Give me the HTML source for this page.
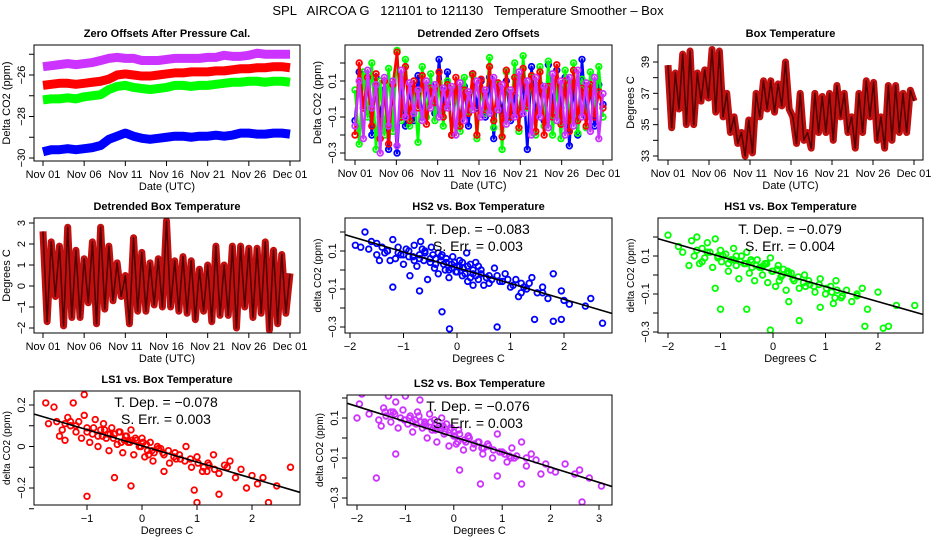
<!DOCTYPE html>
<html><head><meta charset="utf-8"><style>
body{margin:0;background:#fff;}
svg{display:block;font-family:"Liberation Sans",sans-serif;}
</style></head><body>
<svg id="c" width="936" height="540" viewBox="0 0 936 540">
<text x="468" y="15" text-anchor="middle" font-size="13" style="white-space:pre" xml:space="preserve">SPL   AIRCOA G   121101 to 121130   Temperature Smoother – Box</text>
</svg>
<script>
// ---- data ----
const dateTicks = [0,5,10,15,20,25,30];
const dateLabels = ["Nov 01","Nov 06","Nov 11","Nov 16","Nov 21","Nov 26","Dec 01"];
const zPurple = [-25.6,-25.55,-25.5,-25.45,-25.5,-25.45,-25.4,-25.3,-25.2,-25.15,-25.2,-25.2,-25.3,-25.3,-25.3,-25.25,-25.2,-25.2,-25.2,-25.2,-25.15,-25.15,-25.05,-25.1,-25.1,-25.05,-24.95,-25.0,-25.0,-25.0,-25.0];
const zRed = [-26.5,-26.45,-26.4,-26.4,-26.45,-26.4,-26.35,-26.3,-26.2,-26.0,-25.95,-26.0,-26.05,-26.05,-26.0,-25.95,-25.9,-25.9,-25.85,-25.85,-25.85,-25.8,-25.8,-25.75,-25.7,-25.7,-25.65,-25.65,-25.6,-25.6,-25.65];
const zGreen = [-27.2,-27.15,-27.15,-27.1,-27.15,-27.05,-27.0,-26.95,-26.7,-26.55,-26.5,-26.6,-26.65,-26.7,-26.65,-26.6,-26.5,-26.5,-26.55,-26.5,-26.5,-26.45,-26.4,-26.35,-26.35,-26.3,-26.3,-26.35,-26.3,-26.3,-26.35];
const zBlue = [-29.7,-29.6,-29.6,-29.55,-29.6,-29.55,-29.5,-29.4,-29.1,-28.95,-28.8,-28.95,-29.05,-29.1,-29.05,-29.0,-28.95,-28.95,-29.0,-28.95,-28.95,-28.9,-28.95,-28.9,-28.8,-28.8,-28.85,-28.85,-28.8,-28.8,-28.85];
const dBlue = [-0.12,0.15,-0.05,0.1,-0.2,0.12,-0.1,0.05,-0.28,0.08,-0.3,0.1,-0.15,0.06,-0.12,0.13,-0.1,0.05,0.08,-0.08,0.22,-0.05,0.15,-0.2,0.04,-0.12,0.07,-0.15,0.14,-0.05,0.1,-0.1,0.12,-0.22,0.06,-0.08,0.1,-0.12,0.02,-0.09,0.11,-0.28,0.18,-0.1,0.08,-0.12,0.19,-0.04,0.16,-0.05,0.12,-0.26,0.09,-0.2,0.22,-0.1,0.06,-0.15,0.08,-0.03];
const dGreen = [0.05,-0.25,0.15,-0.1,0.2,-0.28,0.1,-0.2,0.17,-0.18,0.27,-0.12,0.22,-0.15,0.05,-0.24,0.18,-0.1,0.14,-0.12,0.09,-0.15,0.1,-0.2,0.06,-0.18,0.12,-0.07,0.13,-0.22,0.05,-0.08,0.23,-0.16,0.08,-0.28,0.15,-0.1,0.2,-0.18,0.24,-0.05,0.12,-0.2,0.18,-0.15,0.21,-0.2,0.08,-0.22,0.16,-0.12,0.2,-0.19,0.11,-0.16,0.15,-0.08,0.18,-0.1];
const dRed = [-0.2,0.2,-0.05,0.12,-0.15,0.14,-0.22,0.1,-0.25,0.08,0.26,-0.1,0.18,-0.12,0.1,-0.05,0.13,-0.14,0.06,-0.02,0.15,-0.1,0.08,-0.2,0.12,-0.15,0.05,-0.08,0.14,-0.2,0.11,-0.06,0.18,-0.12,0.09,-0.21,0.16,-0.1,0.12,-0.16,0.17,-0.04,0.13,-0.18,0.15,-0.2,0.07,-0.1,0.19,-0.14,0.1,-0.18,0.16,-0.12,0.06,-0.15,0.08,-0.1,0.04,-0.05];
const dPurple = [-0.15,0.1,-0.22,0.16,-0.05,0.08,-0.3,0.12,-0.15,0.1,-0.26,0.16,-0.1,0.09,-0.08,0.05,-0.12,0.1,-0.05,0.08,-0.1,0.06,-0.05,0.07,-0.2,0.09,-0.12,0.04,-0.06,0.1,-0.1,0.05,-0.08,0.12,-0.06,0.08,-0.14,0.05,-0.1,0.15,-0.08,0.1,-0.2,0.12,-0.1,0.07,-0.16,0.14,-0.12,0.1,-0.2,0.12,-0.15,0.16,-0.1,0.09,-0.18,0.12,-0.22,0.03];
const boxTemp = [38.8,34.8,38.3,36.0,39.5,35.0,39.7,35.0,38.3,36.5,38.5,36.7,39.8,35.8,39.7,35.5,37.0,34.5,35.5,33.8,34.5,33.0,35.3,33.2,37.0,35.5,37.8,36.0,37.8,35.8,37.6,36.2,39.0,36.0,35.5,33.8,37.0,34.0,34.5,33.5,37.0,34.5,36.8,34.5,37.0,34.0,37.5,35.5,37.0,34.5,35.5,33.5,37.0,34.5,37.8,35.5,37.7,34.0,35.5,33.5,37.5,34.0,37.5,34.5,37.0,34.5,37.2,36.5];
const detBox = [2.6,-1.7,2.1,-0.5,1.9,-1.9,2.8,-1.5,1.7,-1.5,1.3,-0.8,2.1,-1.8,2.8,-1.1,1.9,-0.7,1.1,-0.5,0.5,-1.8,2.3,-1.2,1.6,-1.2,1.1,-0.9,1.3,-1.0,3.1,-1.0,1.2,-1.2,1.4,-1.3,1.2,-1.6,0.8,-1.2,1.0,-1.7,1.9,-1.4,1.0,-1.4,1.9,-2.0,1.9,-1.0,1.8,-1.5,1.8,-1.3,2.1,-2.1,1.7,-1.8,1.5,-1.3,0.6];
const hs2X = [-1.9,-1.8,-1.72,-1.65,-1.6,-1.5,-1.45,-1.4,-1.35,-1.3,-1.25,-1.2,-1.15,-1.1,-1.05,-1.0,-0.95,-0.9,-0.88,-0.82,-0.8,-0.75,-0.7,-0.68,-0.62,-0.6,-0.55,-0.5,-0.48,-0.42,-0.4,-0.35,-0.3,-0.28,-0.22,-0.2,-0.15,-0.1,-0.08,-0.02,0.0,0.05,0.1,0.12,0.18,0.2,0.25,0.3,0.35,0.4,0.45,0.5,0.6,0.7,0.8,0.9,1.0,1.1,1.15,1.2,1.3,1.4,1.5,1.6,1.7,1.8,1.95,2.0,2.1,2.4,2.5,2.72,-1.2,-0.28,-0.14,0.75,1.8,1.95,-0.7,0.3,1.45,
 -1.5,-1.3,-1.1,-0.9,-0.7,-0.6,-0.5,-0.45,-0.4,-0.3,-0.25,-0.2,-0.1,-0.05,0,0.05,0.1,0.15,0.2,0.3,0.35,0.45,0.55,0.65,0.75,0.85,0.95,1.05,1.25,1.35,-0.8,-0.65,-0.35,-0.15,0.25,0.4,0.6,1.2,1.6,-1.0];
const hs2Y = [0.13,0.12,0.2,0.11,0.15,0.08,0.05,0.12,0.09,0.1,0.05,0.16,0.06,0.12,0.08,0.03,0.11,0.1,-0.03,0.07,0.13,0.02,0.06,0.15,0.05,0.09,-0.05,0.04,0.12,0.01,0.06,-0.02,0.05,0.08,0.0,0.04,-0.04,0.03,0.07,-0.01,0.02,0.05,-0.03,0.01,0.09,-0.06,0.03,-0.02,0.04,-0.05,0.0,-0.08,-0.03,0.01,-0.06,-0.02,-0.09,-0.05,-0.14,-0.07,-0.1,-0.04,-0.12,-0.09,-0.15,-0.02,-0.11,-0.16,-0.18,-0.19,-0.15,-0.28,-0.09,-0.22,-0.31,-0.3,-0.27,-0.26,-0.11,-0.08,-0.26,
 0.14,0.1,0.09,0.07,0.08,0.1,0.06,0.08,0.03,0.07,0.03,0.06,0.01,0.04,-0.01,0.02,0.04,-0.02,0.02,0.0,-0.03,-0.02,-0.04,-0.05,-0.03,-0.06,-0.05,-0.08,-0.09,-0.07,0.05,0.11,0.09,0.0,-0.04,0.02,-0.07,-0.12,-0.12,0.08];
const hs1X = [-2.0,-1.8,-1.72,-1.6,-1.55,-1.5,-1.45,-1.4,-1.35,-1.3,-1.25,-1.2,-1.15,-1.1,-1.05,-1.0,-0.98,-0.9,-0.85,-0.8,-0.75,-0.7,-0.65,-0.6,-0.55,-0.5,-0.45,-0.4,-0.35,-0.3,-0.25,-0.2,-0.15,-0.1,-0.05,0.0,0.05,0.1,0.15,0.2,0.25,0.3,0.4,0.5,0.6,0.7,0.8,0.9,1.0,1.1,1.15,1.2,1.3,1.4,1.5,1.6,1.7,1.8,2.0,2.1,2.2,2.35,2.7,-1.1,-1.0,-0.5,-0.05,0.5,1.75,0.3,0.9,
 -1.45,-1.25,-1.05,-0.95,-0.75,-0.62,-0.52,-0.42,-0.32,-0.22,-0.12,-0.02,0.08,0.18,0.28,0.38,0.48,0.58,0.68,0.78,0.88,1.02,1.12,1.22,1.32,-0.85,-0.7,-0.4,-0.18,0.12,0.35,0.62,1.18,1.6,-1.35];
const hs1Y = [0.21,0.15,0.12,0.05,0.18,0.1,0.2,0.06,0.14,0.09,0.17,0.12,0.04,0.19,0.1,0.13,0.07,0.11,0.02,0.08,0.14,0.05,-0.02,0.1,0.06,0.12,0.01,0.07,-0.03,0.08,0.04,0.0,0.06,-0.04,0.09,0.02,-0.06,0.05,-0.01,0.03,-0.08,0.01,-0.03,-0.07,0.0,-0.05,-0.09,-0.02,-0.1,-0.06,-0.15,-0.03,-0.12,-0.08,-0.14,-0.1,-0.07,-0.18,-0.09,-0.28,-0.27,-0.16,-0.16,-0.07,-0.18,-0.18,-0.29,-0.24,-0.27,-0.14,-0.17,
 0.13,0.12,0.09,0.1,0.08,0.07,0.06,0.08,0.05,0.04,0.06,0.02,0.03,0.0,0.02,-0.02,-0.01,-0.04,-0.03,-0.06,-0.05,-0.07,-0.09,-0.08,-0.11,0.06,0.1,0.04,0.05,-0.03,0.01,-0.06,-0.12,-0.11,0.07];
const ls1X = [-1.75,-1.7,-1.6,-1.55,-1.5,-1.45,-1.4,-1.35,-1.3,-1.25,-1.2,-1.15,-1.1,-1.05,-1.0,-0.95,-0.9,-0.85,-0.8,-0.75,-0.7,-0.65,-0.6,-0.55,-0.5,-0.45,-0.4,-0.35,-0.3,-0.25,-0.2,-0.15,-0.1,-0.05,0.0,0.05,0.1,0.15,0.2,0.3,0.4,0.5,0.6,0.7,0.8,0.9,1.0,1.1,1.2,1.3,1.4,1.5,1.6,1.7,1.8,1.9,2.0,2.1,2.2,2.3,2.45,2.7,-1.0,-1.05,-0.5,0.95,1.0,1.4,-0.2,0.4,
 -1.4,-1.2,-1.0,-0.88,-0.72,-0.62,-0.52,-0.42,-0.32,-0.22,-0.12,-0.02,0.08,0.18,0.28,0.38,0.48,0.58,0.68,0.78,0.88,1.02,1.12,1.22,1.32,-0.8,-0.68,-0.38,-0.18,0.12,0.34,0.62,1.18,1.55,-1.3,-0.58,-0.28,0.02,0.22];
const ls1Y = [0.21,0.11,0.19,0.12,0.05,0.08,0.03,0.14,0.1,0.21,0.07,0.12,0.04,0.15,0.09,0.02,0.06,0.13,0.0,0.08,0.11,0.04,-0.02,0.09,0.06,0.01,0.07,-0.03,0.05,0.02,0.08,-0.04,0.03,0.0,0.04,-0.05,-0.02,0.02,-0.07,-0.01,-0.04,-0.08,-0.03,-0.06,0.0,-0.1,-0.05,-0.12,-0.08,-0.04,-0.13,-0.09,-0.07,-0.15,-0.11,-0.2,-0.14,-0.18,-0.15,-0.27,-0.19,-0.1,-0.24,0.25,-0.15,-0.21,-0.27,-0.23,-0.19,-0.12,
 0.11,0.1,0.07,0.09,0.05,0.06,0.04,0.07,0.03,0.02,0.04,0.0,0.01,-0.02,0.0,-0.03,-0.02,-0.05,-0.04,-0.07,-0.06,-0.08,-0.1,-0.09,-0.11,0.05,0.08,0.02,0.03,-0.04,-0.01,-0.06,-0.12,-0.1,0.12,0.06,0.05,0.02,-0.03];
const ls2X = [-2.0,-1.95,-1.9,-1.75,-1.55,-1.5,-1.45,-1.4,-1.35,-1.3,-1.25,-1.2,-1.15,-1.1,-1.05,-1.0,-0.95,-0.9,-0.85,-0.8,-0.75,-0.7,-0.65,-0.6,-0.55,-0.5,-0.45,-0.4,-0.35,-0.3,-0.25,-0.2,-0.15,-0.1,-0.05,0.0,0.05,0.1,0.2,0.3,0.4,0.5,0.6,0.7,0.8,0.9,1.0,1.1,1.2,1.3,1.4,1.5,1.6,1.7,1.8,1.9,2.0,2.1,2.3,2.5,2.6,2.8,3.05,-1.6,-1.2,0.12,0.55,0.9,2.65,1.4,
 -1.42,-1.22,-1.02,-0.92,-0.78,-0.68,-0.58,-0.48,-0.38,-0.28,-0.18,-0.08,0.02,0.12,0.22,0.32,0.42,0.52,0.62,0.72,0.82,0.95,1.05,1.15,1.25,-0.85,-0.72,-0.42,-0.22,0.08,0.3,0.58,1.18,1.5,-1.3,-0.6,-0.3,0.0,0.25];
const ls2Y = [0.1,0.17,0.22,0.12,0.09,0.06,0.15,0.11,0.21,0.08,0.13,0.18,0.05,0.1,0.14,0.21,0.07,0.11,0.03,0.09,0.13,0.19,0.05,0.08,0.0,0.12,0.04,0.09,-0.02,0.06,0.1,0.02,0.07,-0.04,0.05,0.01,-0.03,0.04,-0.06,0.01,-0.05,-0.02,-0.08,-0.03,-0.1,0.02,-0.07,-0.12,-0.05,-0.09,-0.02,-0.14,-0.08,-0.11,-0.18,-0.13,-0.16,-0.17,-0.13,-0.18,-0.16,-0.2,-0.24,-0.2,-0.08,-0.16,-0.23,-0.19,-0.32,-0.23,
 0.13,0.12,0.09,0.1,0.07,0.08,0.06,0.08,0.04,0.05,0.03,0.04,0.01,0.02,-0.01,0.0,-0.03,-0.02,-0.05,-0.04,-0.06,-0.07,-0.08,-0.09,-0.1,0.08,0.11,0.05,0.06,-0.02,0.01,-0.05,-0.1,-0.1,0.13,0.07,0.06,0.03,-0.02];
const fitSlope = [-0.083,-0.079,-0.078,-0.076];
const fitIntercept = [0.012,0.018,0.003,0.006];
const fitErr = ["0.003","0.004","0.003","0.003"];

// ---- drawing ----
const svg=document.getElementById('c');
const NS='http://www.w3.org/2000/svg';
function el(tag,attrs,parent){const e=document.createElementNS(NS,tag);for(const k in attrs)e.setAttribute(k,attrs[k]);(parent||svg).appendChild(e);return e;}
function lin(v1,p1,v2,p2){return v=>p1+(v-v1)*(p2-p1)/(v2-v1);}

function panel(o){
  const g=el('g',{});
  
  
  const b=o.box;
  const t=el('text',{x:(b.l+b.r)/2,y:b.t-8,'text-anchor':'middle','font-size':'11','font-weight':'bold'},g);
  t.textContent=o.title;
  
  
  const clip='clip'+o.name;
  const cp=el('clipPath',{id:clip},g);el('rect',{x:b.l,y:b.t,width:b.r-b.l,height:b.b-b.t},cp);
  const plot=el('g',{'clip-path':'url(#'+clip+')'},g);
  
  
  const fr=el('rect',{x:b.l,y:b.t,width:b.r-b.l,height:b.b-b.t,fill:'none',stroke:'#000','stroke-width':1},g);
  
  
  const xa=el('g',{},g);
  
  
  o.xt.forEach((v,i)=>{const x=o.sx(v);el('line',{x1:x,x2:x,y1:b.b,y2:b.b+5,stroke:'#000'},xa);
    const tx=el('text',{x:x,y:b.b+17,'text-anchor':'middle','font-size':'11'},xa);tx.textContent=o.xl[i];
    
    });
  const xt=el('text',{x:(b.l+b.r)/2,y:b.b+29,'text-anchor':'middle','font-size':'11'},g);xt.textContent=o.xtitle;
  
  
  const ya=el('g',{},g);
  
  
  o.yt.forEach(v=>{const y=o.sy(v);el('line',{x1:b.l-5,x2:b.l,y1:y,y2:y,stroke:'#000'},ya);});
  o.yl.forEach(v=>{const y=o.sy(v);const tx=el('text',{x:b.l-9,y:y,'text-anchor':'middle','font-size':'11',transform:`rotate(-90 ${b.l-9} ${y})`},ya);tx.textContent=String(v).replace('-','\u2212');
    
    });
  const yc=(b.t+b.b)/2;
  const yt=el('text',{x:b.l-24,y:yc,'text-anchor':'middle','font-size':o.ytSize||'11',transform:`rotate(-90 ${b.l-24} ${yc})`},g);yt.textContent=o.ytitle;
  
  
  return plot;
}
function circles(p,xs,ys,sx,sy,col,name){
  const n=Math.min(xs.length,ys.length);
  for(let i=0;i<n;i++){const c=el('circle',{cx:sx(xs[i]),cy:sy(ys[i]),r:2.8,fill:'none',stroke:col,'stroke-width':1.8},p);
    
    }
}
function line(p,vals,sx,sy,col,w,name){
  const pts=vals.map((v,i)=>sx(i*30/(vals.length-1))+','+sy(v)).join(' ');
  const l=el('polyline',{points:pts,fill:'none',stroke:col,'stroke-width':w,'stroke-linejoin':'round'},p);
  
  
}
const PUR='#cc33ff';

{const b={l:34,r:300,t:45,b:161};const sx=lin(0,43,30,290),sy=lin(-26,75,-30,158);
 const p=panel({name:'zero-offsets-panel',box:b,title:'Zero Offsets After Pressure Cal.',sx,sy,xt:dateTicks,xl:dateLabels,xtitle:'Date (UTC)',yt:[-30,-29,-28,-27,-26,-25],yl:[-30,-28,-26],ytitle:'Delta CO2 (ppm)'});
 line(p,zPurple,sx,sy,PUR,9,'series-ls2');line(p,zRed,sx,sy,'#ff0000',9,'series-ls1');
 line(p,zGreen,sx,sy,'#00ff00',9,'series-hs1');line(p,zBlue,sx,sy,'#0000ff',9,'series-hs2');}
{const b={l:345,r:612,t:45,b:160};const sx=lin(0,355,30,603),sy=lin(0.1,81,-0.3,153);
 const p=panel({name:'detrended-offsets-panel',box:b,title:'Detrended Zero Offsets',sx,sy,xt:dateTicks,xl:dateLabels,xtitle:'Date (UTC)',yt:[0.2,0.1,0,-0.1,-0.2,-0.3],yl:[0.1,-0.1,-0.3],ytitle:'Delta CO2 (ppm)'});
 [[dBlue,'#0000ff','hs2'],[dGreen,'#00ff00','hs1'],[dRed,'#ff0000','ls1'],[dPurple,PUR,'ls2']].forEach(s=>{
   line(p,s[0],sx,sy,s[1],2.5,'series-'+s[2]);
   circles(p,s[0].map((v,i)=>i*30/(s[0].length-1)),s[0],sx,sy,s[1],'point-'+s[2]);});}
{const b={l:658,r:923,t:45,b:160};const sx=lin(0,668,30,914),sy=lin(39,62,33,156);
 const p=panel({name:'box-temperature-panel',box:b,title:'Box Temperature',sx,sy,xt:dateTicks,xl:dateLabels,xtitle:'Date (UTC)',yt:[33,34,35,36,37,38,39],yl:[33,35,37,39],ytitle:'Degrees C'});
 line(p,boxTemp,sx,sy,'#c01010',7,'series-box-temp');line(p,boxTemp,sx,sy,'#500000',1.5,'series-box-temp-core');}
{const b={l:34,r:300,t:218,b:333};const sx=lin(0,43,30,290),sy=lin(3,223,-2,328);
 const p=panel({name:'detrended-box-temp-panel',box:b,title:'Detrended Box Temperature',sx,sy,xt:dateTicks,xl:dateLabels,xtitle:'Date (UTC)',yt:[-2,-1,0,1,2,3],yl:[-2,-1,0,1,2,3],ytitle:'Degrees C'});
 line(p,detBox,sx,sy,'#c01010',7,'series-detrended-temp');line(p,detBox,sx,sy,'#500000',1.5,'series-detrended-core');}
function scatter(name,title,b,sx,sy,xt,yt,yl,X,Y,col,k,tx){
  const p=panel({name,box:b,title,sx,sy,xt,xl:xt.map(v=>String(v).replace('-','\u2212')),xtitle:'Degrees C',yt,yl,ytitle:'delta CO2 (ppm)',ytSize:'10'});
  circles(p,X,Y,sx,sy,col,'scatter-point');
  const x0=-5,x1=5;
  const fl=el('line',{x1:sx(x0),y1:sy(fitIntercept[k]+fitSlope[k]*x0),x2:sx(x1),y2:sy(fitIntercept[k]+fitSlope[k]*x1),stroke:'#000','stroke-width':1.6},p);
  
  
  const a=el('text',{x:tx,y:b.t+16,'text-anchor':'middle','font-size':'14'},p);a.textContent='T. Dep. =  \u2212'+Math.abs(fitSlope[k]).toFixed(3);
  
  
  const e=el('text',{x:tx,y:b.t+33,'text-anchor':'middle','font-size':'14'},p);e.textContent='S. Err. =  '+fitErr[k];
  
  
}
scatter('hs2-panel','HS2 vs. Box Temperature',{l:345,r:612,t:218,b:333},lin(-2,350,2,564),lin(0.1,251,-0.3,327),[-2,-1,0,1,2],[0.2,0.1,0,-0.1,-0.2,-0.3],[0.1,-0.1,-0.3],hs2X,hs2Y,'#0000ff',0,478);
scatter('hs1-panel','HS1 vs. Box Temperature',{l:658,r:923,t:218,b:333},lin(-2,668,2,878),lin(0.1,256,-0.3,332),[-2,-1,0,1,2],[0.2,0.1,0,-0.1,-0.2,-0.3],[0.1,-0.1,-0.3],hs1X,hs1Y,'#00ff00',1,790);
scatter('ls1-panel','LS1 vs. Box Temperature',{l:34,r:300,t:391,b:505},lin(0,142,1,197),lin(0.2,405,-0.2,488),[-1,0,1,2],[0.2,0.1,0,-0.1,-0.2,-0.3],[0.2,0.0,-0.2],ls1X,ls1Y,'#ff0000',2,166);
scatter('ls2-panel','LS2 vs. Box Temperature',{l:347,r:612,t:395,b:505},lin(-2,357,3,599),lin(0.1,418,-0.3,498),[-2,-1,0,1,2,3],[0.2,0.1,0,-0.1,-0.2,-0.3],[0.1,-0.1,-0.3],ls2X,ls2Y,PUR,3,478);
</script>
</body></html>
